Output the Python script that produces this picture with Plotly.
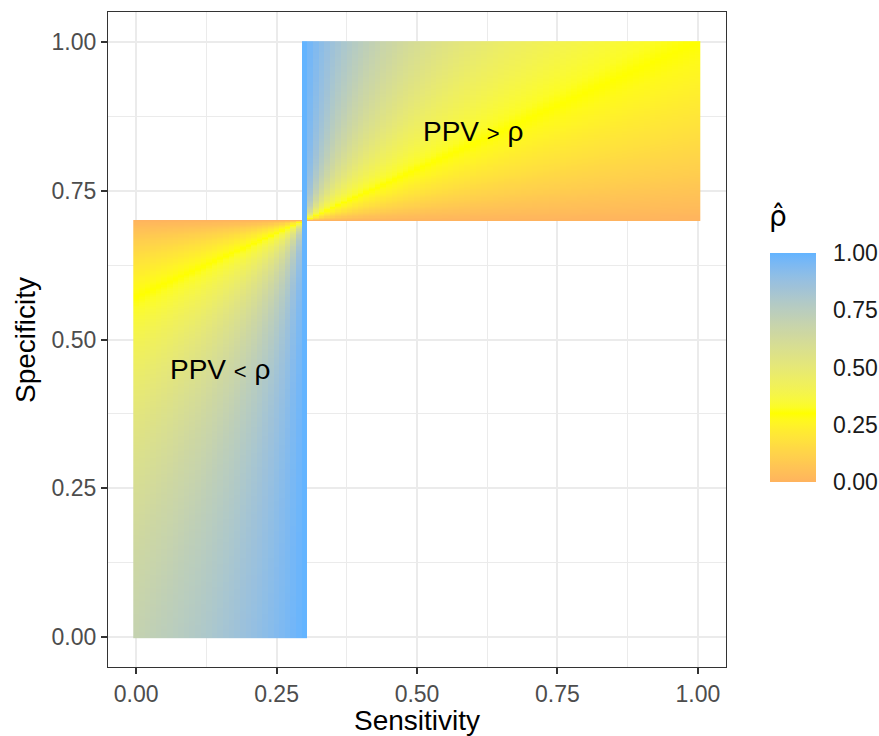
import numpy as np
import plotly.graph_objects as go

# ---- data ----
sensitivity = np.round(np.arange(0, 1.0001, 0.01), 3)
specificity = np.round(np.arange(0, 1.0001, 0.002), 3)
observed_positive_rate = 0.30   # rho (boundary of both regions)
tick_vals = [0.00, 0.25, 0.50, 0.75, 1.00]
tick_text = ["0.00", "0.25", "0.50", "0.75", "1.00"]
label_texts = ["PPV <span style='font-size:22px'>&gt;</span> ρ",
               "PPV <span style='font-size:22px'>&lt;</span> ρ"]
label_x = [0.60, 0.15]
label_y = [0.85, 0.45]
color_anchor_vals = [0.0, 0.30, 1.0]
color_anchor_cols = ["#FFB35E", "#FFFF00", "#63B4FF"]

# Rogan-Gladen style estimate of rho over the grid
S, P = np.meshgrid(sensitivity, specificity)
with np.errstate(divide="ignore", invalid="ignore"):
    Z = (observed_positive_rate + P - 1) / (S + P - 1)
bad = ~np.isfinite(Z) | (Z < -1e-9) | (Z > 1 + 1e-9)
Z = np.clip(Z, 0, 1)
Z[bad] = np.nan
# limit along the sensitivity = rho column
Z[np.isclose(S, observed_positive_rate) & np.isclose(P, 1 - observed_positive_rate)] = 1.0

# ---- Lab interpolated colour scale (like ggplot's gradientn) ----
def hex2rgb(h):
    h = h.lstrip("#")
    return np.array([int(h[i:i + 2], 16) for i in (0, 2, 4)]) / 255.0

def srgb2lin(c):
    return np.where(c <= 0.04045, c / 12.92, ((c + 0.055) / 1.055) ** 2.4)

def lin2srgb(c):
    return np.where(c <= 0.0031308, 12.92 * c, 1.055 * np.power(np.clip(c, 0, None), 1 / 2.4) - 0.055)

M = np.array([[0.4124, 0.3576, 0.1805], [0.2126, 0.7152, 0.0722], [0.0193, 0.1192, 0.9505]])
Minv = np.linalg.inv(M)
WP = np.array([0.95047, 1.0, 1.08883])

def rgb2lab(rgb):
    xyz = M @ srgb2lin(rgb) / WP
    f = np.where(xyz > (6 / 29) ** 3, np.cbrt(xyz), xyz / (3 * (6 / 29) ** 2) + 4 / 29)
    return np.array([116 * f[1] - 16, 500 * (f[0] - f[1]), 200 * (f[1] - f[2])])

def lab2rgb(lab):
    fy = (lab[0] + 16) / 116
    fx = fy + lab[1] / 500
    fz = fy - lab[2] / 200
    f = np.array([fx, fy, fz])
    xyz = np.where(f > 6 / 29, f ** 3, 3 * (6 / 29) ** 2 * (f - 4 / 29)) * WP
    return np.clip(lin2srgb(Minv @ xyz), 0, 1)

labs = [rgb2lab(hex2rgb(c)) for c in color_anchor_cols]
colorscale = []
for t in np.linspace(0, 1, 41):
    i = 0 if t <= color_anchor_vals[1] else 1
    a, b = color_anchor_vals[i], color_anchor_vals[i + 1]
    w = (t - a) / (b - a)
    rgb = lab2rgb(labs[i] * (1 - w) + labs[i + 1] * w)
    r, g, bb = (np.round(rgb * 255)).astype(int)
    colorscale.append([float(t), f"rgb({r},{g},{bb})"])

FONT = "Liberation Sans, Arial, sans-serif"
L, R, T, B = 108, 726, 12, 667
PW, PH = R - L, B - T

fig = go.Figure()
fig.add_trace(go.Heatmap(
    x=sensitivity, y=specificity, z=Z,
    zmin=0, zmax=1, colorscale=colorscale, hoverongaps=False,
    colorbar=dict(
        tickvals=tick_vals, ticktext=tick_text,
        tickfont=dict(size=23, color="#1A1A1A", family=FONT),
        ticks="outside", ticklen=13, tickcolor="rgba(255,255,255,0)", tickwidth=1,
        thickness=46, lenmode="pixels", len=229,
        x=(770 - L) / PW, xanchor="left", xpad=0, ypad=0,
        y=(B - 367.5) / PH, yanchor="middle",
        outlinewidth=0,
    ),
))

for txt, xx, yy in zip(label_texts, label_x, label_y):
    fig.add_annotation(x=xx, y=yy, text=txt, showarrow=False,
                       xanchor="center", yanchor="middle",
                       font=dict(size=28, color="black", family=FONT))

# legend title rho-hat (single text with combining circumflex)
fig.add_annotation(xref="paper", yref="paper", x=(778 - L) / PW, y=(B - 217) / PH,
                   xanchor="center", yanchor="middle",
                   text="ρ\u0302", showarrow=False,
                   font=dict(size=28, color="black", family="DejaVu Sans"))

axis_common = dict(
    range=[-0.05, 1.05], tickvals=tick_vals, ticktext=tick_text,
    showgrid=True, gridcolor="#EBEBEB", gridwidth=1.6,
    minor=dict(dtick=0.125, tick0=0.125, showgrid=True, gridcolor="#EBEBEB", gridwidth=1.2, ticks=""),
    zeroline=False, showline=True, linecolor="#333333", linewidth=1.3, mirror=True,
    ticks="outside", ticklen=6, tickwidth=2, tickcolor="#333333",
    tickfont=dict(size=23, color="#4D4D4D", family=FONT),
    automargin=False,
)

fig.update_xaxes(**axis_common)
fig.update_yaxes(**axis_common)

fig.add_annotation(xref="paper", yref="paper", x=(417 - L) / PW, y=(B - 720) / PH,
                   xanchor="center", yanchor="middle",
                   text="Sensitivity", showarrow=False,
                   font=dict(size=28, color="black", family=FONT))
fig.add_annotation(xref="paper", yref="paper", x=(25 - L) / PW, y=(B - 340) / PH,
                   xanchor="center", yanchor="middle",
                   text="Specificity", showarrow=False, textangle=-90,
                   font=dict(size=28, color="black", family=FONT))

fig.update_layout(
    width=879, height=736,
    margin=dict(l=L, r=879 - R, t=T, b=736 - B, autoexpand=False),
    paper_bgcolor="white", plot_bgcolor="white",
    font=dict(family=FONT),
)

fig.write_html("out.html", config={"displayModeBar": False},
               post_script="document.body.style.margin='0';")
